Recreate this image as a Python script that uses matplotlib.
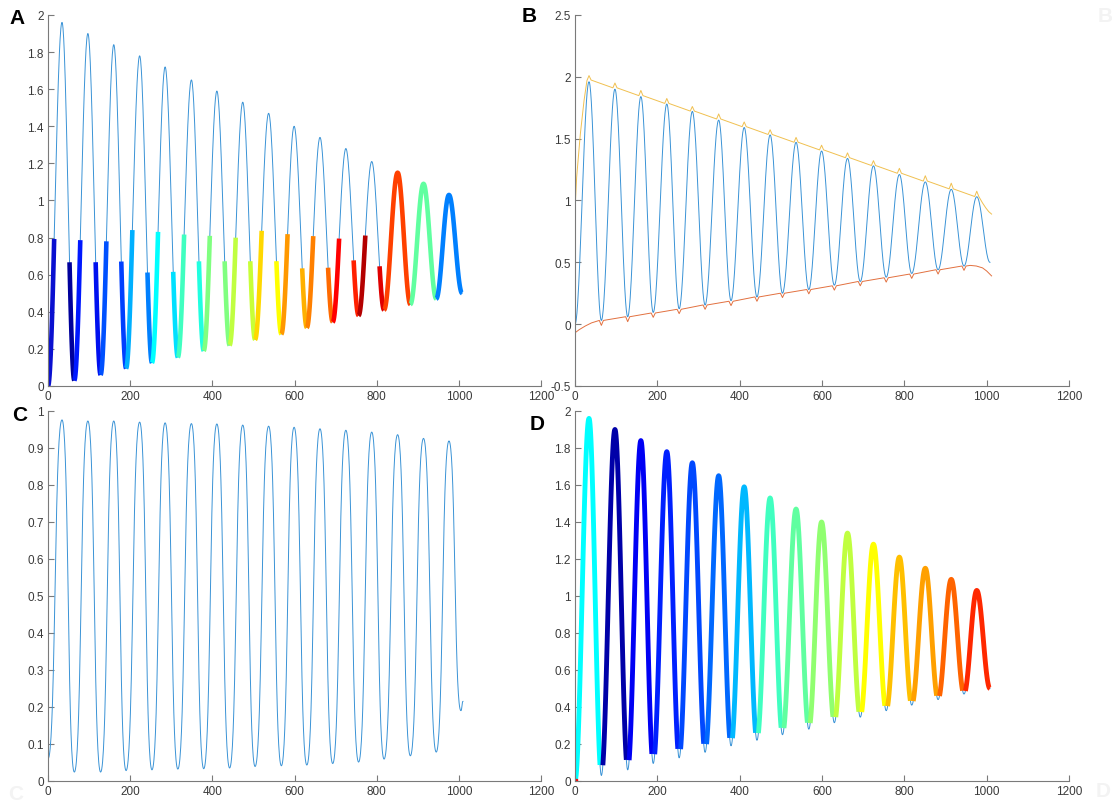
import numpy as np
import matplotlib
matplotlib.use('Agg')
import matplotlib.pyplot as plt
from matplotlib.path import Path
from matplotlib.ticker import FormatStrFormatter

plt.rcParams['font.family'] = ['Liberation Sans', 'DejaVu Sans']

# Extremos de la senal
peak_x = [34, 97, 160, 223, 285, 349, 411, 474, 537, 599, 662, 725, 788, 851, 914, 976]
peak_y = [1.96, 1.90, 1.84, 1.78, 1.72, 1.65, 1.59, 1.53, 1.47, 1.40, 1.34, 1.28, 1.21, 1.15, 1.09, 1.03]
trough_x = [0, 64, 128, 190, 253, 316, 379, 442, 504, 568, 630, 693, 756, 818, 882, 945, 1008]
trough_y = [0.0, 0.03, 0.06, 0.095, 0.125, 0.155, 0.19, 0.22, 0.25, 0.28, 0.315, 0.345, 0.38, 0.41, 0.44, 0.47, 0.50]

# Senal normalizada (panel C)
c_peak_y = [0.976, 0.973, 0.973, 0.970, 0.968, 0.966, 0.965, 0.962, 0.959, 0.956, 0.952, 0.948, 0.943, 0.936, 0.926, 0.919]
c_trough_x = [0, 64, 128, 190, 253, 316, 379, 442, 504, 568, 630, 693, 756, 818, 882, 945, 1005]
c_trough_y = [0.06, 0.024, 0.024, 0.028, 0.030, 0.032, 0.033, 0.035, 0.039, 0.041, 0.043, 0.047, 0.051, 0.059, 0.068, 0.078, 0.19]
c_end = (1010, 0.215)

# Envolventes (panel B)
up_start_x = [0, 4, 13, 22, 29]
up_start_y = [0.92, 1.19, 1.54, 1.81, 1.97]
up_base = [1.974, 1.911, 1.848, 1.785, 1.723, 1.659, 1.597, 1.534, 1.471, 1.409, 1.346, 1.283, 1.220, 1.157, 1.094, 1.032]
up_bump = [2.01, 1.95, 1.89, 1.825, 1.76, 1.70, 1.635, 1.572, 1.51, 1.447, 1.385, 1.322, 1.26, 1.20, 1.14, 1.075]
up_end_x = [990, 998, 1005, 1012]
up_end_y = [0.98, 0.94, 0.91, 0.89]

lo_start_x = [0, 10, 25, 40]
lo_start_y = [-0.07, -0.045, -0.015, 0.01]
lo_base = [0.03, 0.06, 0.09, 0.12, 0.155, 0.185, 0.22, 0.25, 0.28, 0.31, 0.345, 0.375, 0.405, 0.44, 0.47]
lo_dip = [-0.01, 0.02, 0.055, 0.085, 0.12, 0.15, 0.185, 0.215, 0.245, 0.275, 0.31, 0.34, 0.37, 0.405, 0.435]
lo_end_x = [960, 975, 990, 1000, 1012]
lo_end_y = [0.475, 0.47, 0.455, 0.43, 0.39]

# Tramos gruesos del panel A (por valle)
a_lev_down = [None, 0.715, 0.70, 0.68, 0.668, 0.656, 0.715, 0.70, 0.686, 0.674, 0.665, 0.656, 0.697, 0.647]
a_lev_up = [0.827, 0.836, 0.841, 0.846, 0.85, 0.85, 0.852, 0.848, 0.848, 0.846, 0.841, 0.827, 0.818]
a_col_down = [None, '#00009c', '#0010f0', '#0040ff', '#0080ff', '#00e0ff', '#20ffe0', '#80ff80',
              '#c8ff38', '#ffff00', '#ffb000', '#ff6a00', '#ff2000', '#e00000']
a_col_up = ['#0a10d0', '#0018ff', '#0050ff', '#00b0ff', '#00ffff', '#40ffc0', '#80ff80', '#c0ff40',
            '#ffd800', '#ff9800', '#ff8000', '#ff0000', '#b40000']
a_col_tail = ['#ff4000', '#60ffa0', '#0080ff']

# Colores por ciclo del panel D
d_col = ['#00ffff', '#0000a8', '#0000f4', '#0020ff', '#0048ff', '#0068ff', '#00b8ff', '#40ffc0',
         '#60ffa0', '#90ff70', '#c0ff40', '#ffff00', '#ffc000', '#ffa000', '#ff6400', '#ff2800']

BLUE = '#3a93d6'
YELLOW = '#f0c050'
ORANGE = '#e2703f'


def curva(xs, ys, k=0.364, n=40):
    verts = [(xs[0], ys[0])]
    codes = [Path.MOVETO]
    for x0, y0, x1, y1 in zip(xs[:-1], ys[:-1], xs[1:], ys[1:]):
        d = k * (x1 - x0)
        verts += [(x0 + d, y0), (x1 - d, y1), (x1, y1)]
        codes += [Path.CURVE4] * 3
    path = Path(verts, codes)
    t = np.linspace(0, 1, n)
    pts = [seg(t)[1:] for seg, code in path.iter_bezier() if code != Path.MOVETO]
    pts = np.vstack([np.array([verts[0]])] + pts)
    return pts[:, 0], pts[:, 1]


def intercalar(tx, ty, px, py):
    xs, ys = [], []
    for i in range(len(tx)):
        xs.append(tx[i]); ys.append(ty[i])
        if i < len(px):
            xs.append(px[i]); ys.append(py[i])
    return xs, ys


def estilo(ax, ylim, yticks):
    ax.set_xlim(0, 1200)
    ax.set_ylim(*ylim)
    ax.set_xticks(range(0, 1201, 200))
    ax.set_yticks(yticks)
    ax.yaxis.set_major_formatter(FormatStrFormatter('%g'))
    for s in ['top', 'right']:
        ax.spines[s].set_visible(False)
    for s in ['left', 'bottom']:
        ax.spines[s].set_color('#7a7a7a')
        ax.spines[s].set_linewidth(0.8)
    ax.tick_params(direction='in', length=4, width=0.8, color='#7a7a7a',
                   labelsize=8.5, labelcolor='#3a3a3a', pad=3)


ext_x, ext_y = intercalar(trough_x, trough_y, peak_x, peak_y)
sx, sy = curva(ext_x, ext_y)
eps = 0.01

fig = plt.figure(figsize=(11.12, 8.04), dpi=100)
axA = fig.add_axes([0.0432, 0.5187, 0.4433, 0.4614])
axB = fig.add_axes([0.5171, 0.5187, 0.4442, 0.4614])
axC = fig.add_axes([0.0432, 0.0274, 0.4433, 0.4602])
axD = fig.add_axes([0.5171, 0.0274, 0.4442, 0.4602])

# Panel A
axA.plot(sx, sy, color=BLUE, lw=0.7)
for j in range(len(a_lev_down)):
    if a_lev_down[j] is not None:
        m = (sx >= peak_x[j - 1]) & (sx <= trough_x[j] + eps) & (sy <= a_lev_down[j])
        axA.plot(sx[m], sy[m], color=a_col_down[j], lw=3.3, solid_capstyle='butt')
    if j < len(a_lev_up):
        m = (sx >= trough_x[j] - eps) & (sx <= peak_x[j]) & (sy <= a_lev_up[j])
        axA.plot(sx[m], sy[m], color=a_col_up[j], lw=3.3, solid_capstyle='butt')
for i, c in enumerate(a_col_tail):
    j = len(a_lev_up) + 1 + i
    m = (sx >= trough_x[j - 1] - eps) & (sx <= trough_x[j] + eps)
    axA.plot(sx[m], sy[m], color=c, lw=3.3, solid_capstyle='butt')
estilo(axA, (0, 2), np.arange(0, 2.01, 0.2))

# Panel B
ux, uy = list(up_start_x), list(up_start_y)
for i in range(len(peak_x)):
    if i > 0:
        ux.append(peak_x[i] - 5); uy.append(up_base[i])
    ux.append(peak_x[i]); uy.append(up_bump[i])
    ux.append(peak_x[i] + 5); uy.append(up_base[i])
ux += up_end_x; uy += up_end_y
lx, ly = list(lo_start_x), list(lo_start_y)
for i in range(len(lo_base)):
    tx = trough_x[i + 1]
    lx += [tx - 5, tx, tx + 5]
    ly += [lo_base[i], lo_dip[i], lo_base[i]]
lx += lo_end_x; ly += lo_end_y
axB.plot(sx, sy, color=BLUE, lw=0.7)
axB.plot(ux, uy, color=YELLOW, lw=0.7)
axB.plot(lx, ly, color=ORANGE, lw=0.7)
estilo(axB, (-0.5, 2.5), np.arange(-0.5, 2.51, 0.5))

# Panel C
cx, cy = intercalar(c_trough_x, c_trough_y, peak_x, c_peak_y)
cx.append(c_end[0]); cy.append(c_end[1])
ccx, ccy = curva(cx, cy, k=0.55)
axC.plot(ccx, ccy, color=BLUE, lw=0.7)
estilo(axC, (0, 1), np.arange(0, 1.01, 0.1))

# Panel D
gap = 3
axD.plot(sx, sy, color=BLUE, lw=0.7)
for j, c in enumerate(d_col):
    lo = trough_x[j] + (gap if j > 0 else 0)
    hi = trough_x[j + 1] - (gap if j < len(d_col) - 1 else 0)
    m = (sx >= lo - eps) & (sx <= hi + eps)
    axD.plot(sx[m], sy[m], color=c, lw=3.5, solid_capstyle='butt')
axD.plot([trough_x[0]], [trough_y[0]], 's', color='#ff0000', ms=2.5)
estilo(axD, (0, 2), np.arange(0, 2.01, 0.2))

# Letras de los paneles
for txt, px, py in [('A', 17, 18), ('B', 529, 17), ('C', 20, 416), ('D', 537, 425)]:
    fig.text(px / 1112, 1 - py / 804, txt, fontsize=15, fontweight='bold',
             ha='center', va='center')
for txt, px, py in [('B', 1105, 17), ('C', 16, 795), ('D', 1103, 792)]:
    fig.text(px / 1112, 1 - py / 804, txt, fontsize=15, fontweight='bold',
             ha='center', va='center', color='#f3f3f3')

fig.savefig('out.png', dpi=100)
